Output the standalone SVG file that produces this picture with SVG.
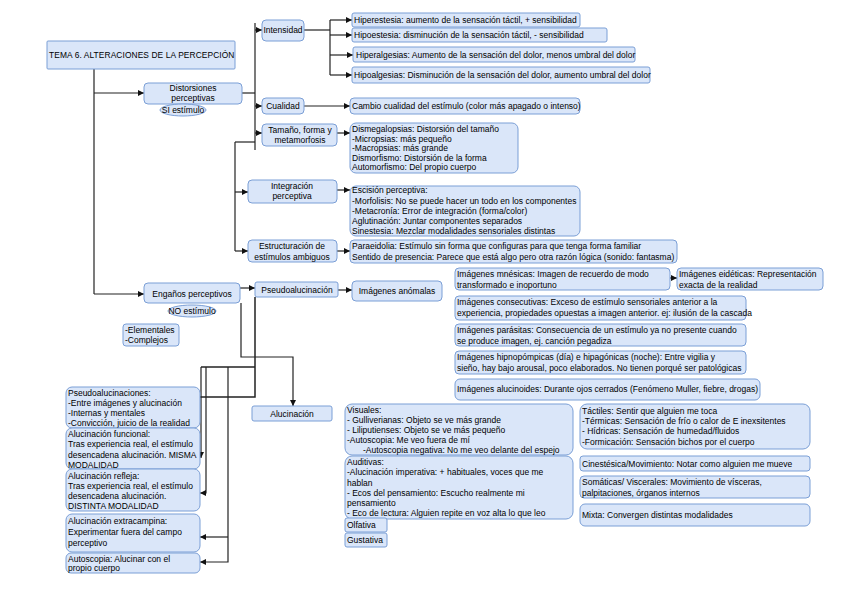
<svg xmlns="http://www.w3.org/2000/svg" width="848" height="599" viewBox="0 0 848 599">
<defs>
<marker id="ah" markerUnits="userSpaceOnUse" markerWidth="7" markerHeight="7" refX="6" refY="3" orient="auto">
<path d="M0,0 L6,3 L0,6 z" fill="#111"/>
</marker>
<style>
.b{fill:#dae6f9;stroke:#7b9fd6;stroke-width:1}
text{font-family:"Liberation Sans",Arial,sans-serif;font-size:8.5px;fill:#000}
.c{text-anchor:middle}
.t{font-size:8.4px;letter-spacing:0.1px}
#connectors path{fill:none;stroke:#222;stroke-width:1.2}
</style>
</defs>
<rect width="848" height="599" fill="#fff"/>
<g id="connectors">
<path d="M94,69 V294"/>
<path d="M94,93 H144" marker-end="url(#ah)"/>
<path d="M94,294 H144" marker-end="url(#ah)"/>
<path d="M242,93 H255"/>
<path d="M255,23 V150"/>
<path d="M255,30 H262" marker-end="url(#ah)"/>
<path d="M255,106 H262" marker-end="url(#ah)"/>
<path d="M255,133 H262" marker-end="url(#ah)"/>
<path d="M235,142 H255"/>
<path d="M235,142 V251"/>
<path d="M235,192 H248" marker-end="url(#ah)"/>
<path d="M235,251 H248" marker-end="url(#ah)"/>
<path d="M304,30 H330"/>
<path d="M330,20 V75"/>
<path d="M330,20 H352" marker-end="url(#ah)"/>
<path d="M330,35 H352" marker-end="url(#ah)"/>
<path d="M330,55 H353" marker-end="url(#ah)"/>
<path d="M330,75 H352" marker-end="url(#ah)"/>
<path d="M304,106 H350" marker-end="url(#ah)"/>
<path d="M337,133 H350" marker-end="url(#ah)"/>
<path d="M337,190 H350" marker-end="url(#ah)"/>
<path d="M337,251 H350" marker-end="url(#ah)"/>
<path d="M240,288 H255" marker-end="url(#ah)"/>
<path d="M338,290 H352" marker-end="url(#ah)"/>
<path d="M670,278 H677" marker-end="url(#ah)"/>
<path d="M241,303 V357 H293 V406" marker-end="url(#ah)"/>
<path d="M255,297 V397 H200" style="stroke-width:1.5"/>
<path d="M255,367 H201" style="stroke-width:1.5"/>
<path d="M201,367 V458" marker-end="url(#ah)"/>
<path d="M206,367 V493 H200" marker-end="url(#ah)"/>
<path d="M228,367 V562 H200" marker-end="url(#ah)"/>
<path d="M228,537 H200" marker-end="url(#ah)"/>
</g>
<g id="title"><rect class="b" x="47" y="41" width="188" height="28" rx="1"/><text class="t" x="49" y="58">TEMA 6. ALTERACIONES DE LA PERCEPCIÓN</text></g>
<g id="distorsiones"><rect class="b" x="144" y="83" width="98" height="21" rx="4"/><text class="c" x="193" y="91">Distorsiones</text><text class="c" x="193" y="100.5">perceptivas</text></g>
<g id="si-estimulo"><ellipse class="b" cx="183" cy="110" rx="23" ry="6"/><text class="c" x="183" y="113">SI estímulo</text></g>
<g id="intensidad"><rect class="b" x="262" y="20" width="42" height="21" rx="4"/><text class="c" x="283" y="33">Intensidad</text></g>
<g id="hiperestesia"><rect class="b" x="352" y="13" width="228" height="14" rx="2"/><text x="354" y="23">Hiperestesia: aumento de la sensación táctil, + sensibilidad</text></g>
<g id="hipoestesia"><rect class="b" x="352" y="28" width="255" height="14" rx="2"/><text x="354" y="38">Hipoestesia: disminución de la sensación táctil, - sensibilidad</text></g>
<g id="hiperalgesias"><rect class="b" x="353" y="47" width="282" height="15" rx="2"/><text x="356" y="58">Hiperalgesias: Aumento de la sensación del dolor, menos umbral del dolor</text></g>
<g id="hipoalgesias"><rect class="b" x="352" y="67" width="298" height="16" rx="2"/><text x="354" y="78">Hipoalgesias: Disminución de la sensación del dolor, aumento umbral del dolor</text></g>
<g id="cualidad"><rect class="b" x="262" y="98" width="42" height="16" rx="4"/><text class="c" x="283" y="109">Cualidad</text></g>
<g id="cambio"><rect class="b" x="350" y="98" width="230" height="16" rx="4"/><text x="352" y="109">Cambio cualidad del estímulo (color más apagado o intenso)</text></g>
<g id="tamano"><rect class="b" x="262" y="124" width="75" height="22" rx="4"/><text class="c" x="300" y="133">Tamaño, forma y</text><text class="c" x="300" y="143">metamorfosis</text></g>
<g id="dismegalopsias"><rect class="b" x="350" y="123" width="168" height="50" rx="6"/>
<text x="352" y="132">Dismegalopsias: Distorsión del tamaño</text>
<text x="352" y="141.6">-Micropsias: más pequeño</text>
<text x="352" y="151.2">-Macropsias: más grande</text>
<text x="352" y="160.8">Dismorfismo: Distorsión de la forma</text>
<text x="352" y="170.4">Automorfismo: Del propio cuerpo</text></g>
<g id="integracion"><rect class="b" x="248" y="180" width="89" height="23" rx="4"/><text class="c" x="292" y="189">Integración</text><text class="c" x="292" y="199">perceptiva</text></g>
<g id="escision"><rect class="b" x="350" y="186" width="230" height="50" rx="6"/>
<text x="352" y="193">Escisión perceptiva:</text>
<text x="352" y="203.5">-Morfolisis: No se puede hacer un todo en los componentes</text>
<text x="352" y="213.5">-Metacronía: Error de integración (forma/color)</text>
<text x="352" y="223.5">Aglutinación: Juntar componentes separados</text>
<text x="352" y="233.5">Sinestesia: Mezclar modalidades sensoriales distintas</text></g>
<g id="estructuracion"><rect class="b" x="248" y="240" width="89" height="22" rx="4"/><text class="c" x="292" y="249">Estructuración de</text><text class="c" x="292" y="259.5">estímulos ambiguos</text></g>
<g id="paraeidolia"><rect class="b" x="350" y="240" width="327" height="23" rx="4"/>
<text x="352" y="248.5">Paraeidolia: Estímulo sin forma que configuras para que tenga forma familiar</text>
<text x="352" y="259.5">Sentido de presencia: Parece que está algo pero otra razón lógica (sonido: fantasma)</text></g>
<g id="enganos"><rect class="b" x="144" y="283" width="96" height="20" rx="4"/><text class="c" x="192" y="297">Engaños perceptivos</text></g>
<g id="no-estimulo"><ellipse class="b" cx="192" cy="311" rx="24" ry="6"/><text class="c" x="192" y="314">NO estímulo</text></g>
<g id="elementales"><rect class="b" x="123" y="324" width="56" height="22" rx="3"/><text x="125" y="333">-Elementales</text><text x="125" y="343">-Complejos</text></g>
<g id="pseudoalucinacion"><rect class="b" x="255" y="282" width="83" height="15" rx="2"/><text class="c" x="297" y="293">Pseudoalucinación</text></g>
<g id="anomalas"><rect class="b" x="352" y="281" width="90" height="20" rx="4"/><text class="c" x="397" y="294">Imágenes anómalas</text></g>
<g id="mnesicas"><rect class="b" x="455" y="268" width="215" height="22" rx="4"/><text x="457" y="277">Imágenes mnésicas: Imagen de recuerdo de modo</text><text x="457" y="288">transformado e inoportuno</text></g>
<g id="eideticas"><rect class="b" x="677" y="268" width="146" height="22" rx="4"/><text x="679" y="277">Imágenes eidéticas: Representación</text><text x="679" y="288">exacta de la realidad</text></g>
<g id="consecutivas"><rect class="b" x="455" y="296" width="291" height="24" rx="4"/><text x="457" y="305">Imágenes consecutivas: Exceso de estímulo sensoriales anterior a la</text><text x="457" y="316">experiencia, propiedades opuestas a imagen anterior. ej: ilusión de la cascada</text></g>
<g id="parasitas"><rect class="b" x="455" y="324" width="291" height="22" rx="4"/><text x="457" y="333">Imágenes parásitas: Consecuencia de un estímulo ya no presente cuando</text><text x="457" y="344">se produce imagen, ej. canción pegadiza</text></g>
<g id="hipnopompicas"><rect class="b" x="455" y="351" width="291" height="23" rx="4"/><text x="457" y="360">Imágenes hipnopómpicas (día) e hipagónicas (noche): Entre vigilia y</text><text x="457" y="371">sieño, hay bajo arousal, poco elaborados. No tienen porqué ser patológicas</text></g>
<g id="alucinoides"><rect class="b" x="455" y="379" width="305" height="21" rx="5"/><text x="457" y="392">Imágenes alucinoides: Durante ojos cerrados (Fenómeno Muller, fiebre, drogas)</text></g>
<g id="alucinacion"><rect class="b" x="252" y="406" width="80" height="15" rx="2"/><text class="c" x="292" y="417">Alucinación</text></g>
<g id="visuales"><rect class="b" x="345" y="404" width="228" height="51" rx="7"/>
<text x="347" y="413">Visuales:</text>
<text x="347" y="423">- Gulliverianas: Objeto se ve más grande</text>
<text x="347" y="433">- Liliputienses: Objeto se ve más pequeño</text>
<text x="347" y="443">-Autoscopia: Me veo fuera de mí</text>
<text x="363" y="453">-Autoscopia negativa: No me veo delante del espejo</text></g>
<g id="auditivas"><rect class="b" x="345" y="456" width="228" height="63" rx="7"/>
<text x="347" y="465">Auditivas:</text>
<text x="347" y="475">-Alucinación imperativa: + habituales, voces que me</text>
<text x="347" y="485.5">hablan</text>
<text x="347" y="495.5">- Ecos del pensamiento: Escucho realmente mi</text>
<text x="347" y="505.5">pensamiento</text>
<text x="347" y="515.5">- Eco de lectura: Alguien repite en voz alta lo que leo</text></g>
<g id="olfativa"><rect class="b" x="345" y="518" width="42" height="14" rx="2"/><text x="347" y="528">Olfativa</text></g>
<g id="gustativa"><rect class="b" x="345" y="533" width="42" height="14" rx="2"/><text x="347" y="543">Gustativa</text></g>
<g id="tactiles"><rect class="b" x="580" y="404" width="230" height="45" rx="7"/>
<text x="582" y="414">Táctiles: Sentir que alguien me toca</text>
<text x="582" y="424">-Térmicas: Sensación de frío o calor de E inexsitentes</text>
<text x="582" y="434">- Hídricas: Sensación de humedad/fluidos</text>
<text x="582" y="444.5">-Formicación: Sensación bichos por el cuerpo</text></g>
<g id="cinestesica"><rect class="b" x="580" y="456" width="230" height="15" rx="3"/><text x="582" y="466.5">Cinestésica/Movimiento: Notar como alguien me mueve</text></g>
<g id="somaticas"><rect class="b" x="580" y="476" width="230" height="22" rx="4"/><text x="582" y="485">Somáticas/ Viscerales: Movimiento de vísceras,</text><text x="582" y="495.5">palpitaciones, órganos internos</text></g>
<g id="mixta"><rect class="b" x="580" y="504" width="230" height="22" rx="5"/><text x="582" y="518">Mixta: Convergen distintas modalidades</text></g>
<g id="pseudoalucinaciones"><rect class="b" x="66" y="387" width="134" height="41" rx="6"/>
<text x="68" y="396">Pseudoalucinaciones:</text>
<text x="68" y="406">-Entre imágenes y alucinación</text>
<text x="68" y="416">-Internas y mentales</text>
<text x="68" y="426">-Convicción, juicio de la realidad</text></g>
<g id="funcional"><rect class="b" x="66" y="428" width="134" height="41" rx="6"/>
<text x="68" y="437">Alucinación funcional:</text>
<text x="68" y="447">Tras experiencia real, el estímulo</text>
<text x="68" y="457.5">desencadena alucinación. MISMA</text>
<text x="68" y="467.5">MODALIDAD</text></g>
<g id="refleja"><rect class="b" x="66" y="469" width="134" height="42" rx="6"/>
<text x="68" y="479">Alucinación refleja:</text>
<text x="68" y="489">Tras experiencia real, el estímulo</text>
<text x="68" y="499">desencadena alucinación.</text>
<text x="68" y="509">DISTINTA MODALIDAD</text></g>
<g id="extracampina"><rect class="b" x="66" y="514" width="134" height="38" rx="6"/>
<text x="68" y="524">Alucinación extracampina:</text>
<text x="68" y="535">Experimentar fuera del campo</text>
<text x="68" y="545.5">perceptivo</text></g>
<g id="autoscopia"><rect class="b" x="66" y="553" width="134" height="20" rx="5"/>
<text x="68" y="561.5">Autoscopia: Alucinar con el</text>
<text x="68" y="571">propio cuerpo</text></g>
</svg>
